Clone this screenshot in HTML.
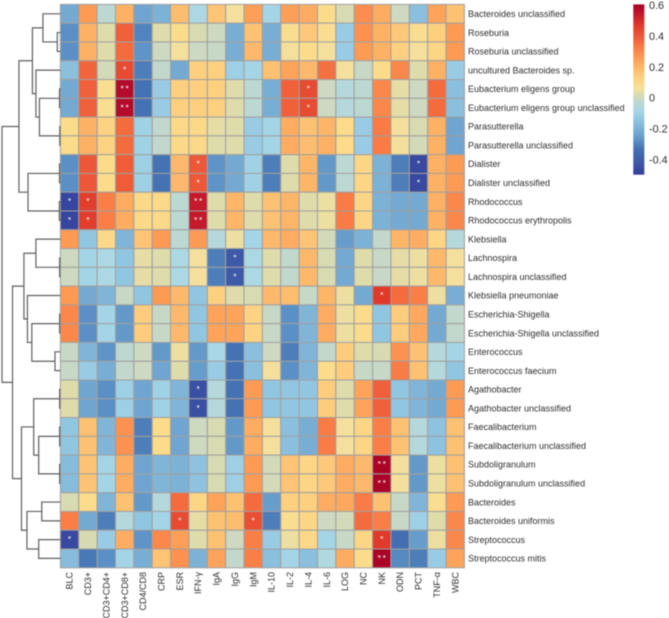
<!DOCTYPE html>
<html><head><meta charset="utf-8"><title>Heatmap</title>
<style>
html,body{margin:0;padding:0;background:#fff;width:669px;height:618px;overflow:hidden}
svg{display:block;filter:blur(0.45px)}
text{font-family:"Liberation Sans",sans-serif;fill:#2e2e2e}
</style></head>
<body>
<svg id="chart" width="669" height="618" viewBox="0 0 669 618" xmlns="http://www.w3.org/2000/svg"></svg>
<script>
const columns = ["BLC","CD3+","CD3+CD4+","CD3+CD8+","CD4/CD8","CRP","ESR","IFN-γ","IgA","IgG","IgM","IL-10","IL-2","IL-4","IL-6","LOG","NC","NK","ODN","PCT","TNF-α","WBC"];
const taxa = ["Bacteroides unclassified","Roseburia","Roseburia unclassified","uncultured Bacteroides sp.","Eubacterium eligens group","Eubacterium eligens group unclassified","Parasutterella","Parasutterella unclassified","Dialister","Dialister unclassified","Rhodococcus","Rhodococcus erythropolis","Klebsiella","Lachnospira","Lachnospira unclassified","Klebsiella pneumoniae","Escherichia-Shigella","Escherichia-Shigella unclassified","Enterococcus","Enterococcus faecium","Agathobacter","Agathobacter unclassified","Faecalibacterium","Faecalibacterium unclassified","Subdoligranulum","Subdoligranulum unclassified","Bacteroides","Bacteroides uniformis","Streptococcus","Streptococcus mitis"];
const correlations = [
[-.22,.26,-.03,.21,-.23,-.2,.18,-.07,.16,.06,.25,-.09,.25,.22,.09,.02,.29,.22,0,-.16,.24,.17],
[-.28,.21,.03,.38,-.3,.03,.09,.02,0,-.21,.17,-.21,.08,.15,.08,-.12,.28,.21,.15,.08,.13,.26],
[-.28,.21,.03,.36,-.27,0,.06,0,-.01,-.21,.19,-.21,.06,.09,.06,-.12,.26,.21,.13,.06,.11,.26],
[-.16,.37,.01,.43,-.31,-.02,-.22,.13,.13,-.11,-.09,.17,.24,.19,.35,.06,-.01,.09,.3,.03,.21,-.12],
[-.22,.38,.08,.58,-.33,-.12,.13,.13,.13,.03,-.03,-.21,.38,.43,0,-.05,-.03,.3,.04,0,.36,-.16],
[-.22,.38,.08,.58,-.33,-.12,.13,.13,.13,.03,-.03,-.21,.38,.43,0,-.05,-.03,.3,.04,0,.36,-.16],
[.09,.21,.12,.36,-.1,-.02,.1,.1,.04,.03,-.12,-.09,.22,.17,.2,.09,-.12,.33,.06,.02,.21,-.23],
[.09,.21,.12,.36,-.1,-.02,.1,.1,.03,.03,-.12,-.09,.22,.18,.21,.09,-.12,.33,.06,.01,.21,-.23],
[-.28,.4,.09,.39,-.11,-.33,.19,.4,-.27,-.22,-.1,-.31,.03,.2,-.26,-.03,.11,-.2,-.31,-.47,.21,.26],
[-.28,.4,.09,.39,-.11,-.33,.19,.4,-.27,-.22,-.1,-.31,.03,.2,-.26,-.03,.11,-.2,-.31,-.47,.21,.26],
[-.48,.46,.32,.22,.1,.1,-.03,.54,.03,.2,.03,.17,.2,.03,.05,.33,.11,-.2,-.22,-.22,.21,.3],
[-.48,.46,.32,.22,.1,.1,-.03,.54,.03,.2,.03,.17,.2,.03,.05,.33,.11,-.2,-.22,-.22,.21,.3],
[.26,-.14,.1,-.19,.16,.26,-.03,.26,-.05,.05,-.09,.19,.22,.16,.01,-.25,-.2,-.02,.2,.22,.11,-.05],
[0,-.09,-.07,-.14,.04,.03,-.07,.06,-.31,-.42,-.07,.03,-.02,.19,.02,-.22,.03,-.01,.04,.05,.19,.06],
[0,-.09,-.07,-.14,.04,.03,-.07,.06,-.31,-.42,-.07,.03,-.02,.19,.02,-.22,.03,-.01,.04,.05,.19,.06],
[.26,-.22,-.19,-.01,-.14,.26,.19,-.14,.13,.03,.02,.19,.18,-.01,.2,.05,-.22,.47,.36,.32,.05,-.21],
[.3,-.28,-.09,-.26,.14,-.01,.19,-.14,.24,.24,.12,-.01,-.28,-.19,.22,.05,.09,-.14,.14,.23,-.22,-.02],
[.3,-.28,-.09,-.26,.14,-.01,.19,-.14,.24,.24,.12,-.01,-.28,-.19,.22,.05,.09,-.14,.14,.23,-.22,-.02],
[-.01,-.19,-.27,-.03,0,-.26,.05,-.26,-.08,-.33,-.16,0,-.31,-.19,-.02,.14,.03,.02,.28,.17,-.05,-.09],
[-.01,-.12,-.21,-.02,0,-.23,.03,-.25,-.12,-.33,-.16,.06,-.28,-.19,.09,.14,-.01,-.01,.33,.17,-.05,-.14],
[.03,-.23,-.28,-.11,-.23,-.1,-.19,-.45,-.05,-.33,.26,-.14,-.14,-.14,.14,.03,.24,.38,-.14,-.19,-.22,.26],
[.03,-.23,-.28,-.11,-.23,-.1,-.19,-.45,-.05,-.33,.26,-.14,-.14,-.14,.14,.03,.24,.38,-.14,-.19,-.22,.26],
[-.14,.17,-.19,.28,-.31,.09,-.23,0,.02,-.26,.22,.06,-.16,-.21,.33,.06,.11,.32,.17,-.05,-.15,.17],
[-.14,.17,-.19,.28,-.31,.09,-.23,0,.02,-.26,.22,.06,-.16,-.21,.33,.06,.11,.32,.17,-.05,-.15,.17],
[-.17,.16,-.09,.22,-.23,-.19,-.2,-.15,.02,-.11,.26,.01,.16,.11,.15,.22,.19,.6,.06,-.26,.05,.17],
[-.17,.16,-.09,.22,-.23,-.19,-.2,-.15,.02,-.11,.26,.01,.16,.11,.15,.22,.19,.6,.06,-.26,.05,.17],
[.02,.09,-.19,.17,-.26,-.05,.36,.11,.24,.17,.36,-.25,.13,.13,.22,.23,.33,.17,-.01,-.19,.08,.26],
[.32,-.22,-.31,-.05,-.14,-.09,.43,.04,.17,.18,.42,-.31,.08,.11,0,.01,.36,.32,-.01,-.11,.03,.3],
[-.47,.02,-.12,.22,-.27,.3,.25,.03,.17,0,.32,-.12,.05,.1,-.09,-.01,.11,.47,-.34,-.25,.05,.3],
[-.17,-.32,-.28,-.09,-.21,.16,.28,-.2,.24,-.02,.32,-.16,-.09,-.16,-.06,.22,.09,.6,-.29,-.31,-.12,.24]
];
const significance = [[3,3,"*"],[4,3,"**"],[5,3,"**"],[4,13,"*"],[5,13,"*"],[8,7,"*"],[9,7,"*"],[8,19,"*"],[9,19,"*"],[10,0,"*"],[11,0,"*"],[10,1,"*"],[11,1,"*"],[10,7,"**"],[11,7,"**"],[13,9,"*"],[14,9,"*"],[15,17,"*"],[20,7,"*"],[21,7,"*"],[24,17,"**"],[25,17,"**"],[27,6,"*"],[27,10,"*"],[28,0,"*"],[28,17,"*"],[29,17,"**"]];
const colorTicks = [0.6,0.4,0.2,0,-0.2,-0.4];
const colorDomain = [-0.495,0.606];
/* Row dendrogram: [merge height (0-1), left child, right child]; numbers are leaf row indices */
const rowTree = [1,
 [.71,
  [.48,
   [.30,0,[.055,1,2]],
   [.42,3,[.36,[.017,4,5],[.012,6,7]]]],
  [.555,[.017,8,9],[.02,10,11]]],
 [.82,
  [.625,
   [.42,12,[.015,13,14]],
   [.565,15,[.49,[.015,16,17],[.094,18,19]]]],
  [.667,
   [.458,[.015,20,21],[.373,[.015,22,23],[.015,24,25]]],
   [.573,[.32,26,27],[.373,28,29]]]]];

const svg = document.getElementById('chart');
const NS = 'http://www.w3.org/2000/svg';
const L = 60.4, R = 464.4, T = 4.4, B = 567.8;
const cw = (R - L) / columns.length, rh = (B - T) / taxa.length;
const xCol = i => L + i * cw;
const yRow = i => T + i * rh;
const xHeight = h => 60.5 - h * 58.5;
const legendL = 633.3, legendW = 11, legendT = 4.4, legendB = 174;
const yLegend = v => legendB - (v - colorDomain[0]) / (colorDomain[1] - colorDomain[0]) * (legendB - legendT);

const scaleStops = [[-.5,'#343e9a'],[-.45,'#3a50a3'],[-.33,'#4472b3'],[-.28,'#5a90c5'],[-.2,'#7cb2d6'],[-.13,'#95c9e3'],[-.08,'#a8d8e8'],[-.03,'#bcd8d2'],[0,'#cdd9c0'],[.03,'#dedcaa'],[.06,'#f4e09c'],[.09,'#fbdc8a'],[.13,'#fdd080'],[.2,'#fdb567'],[.26,'#fd9a54'],[.33,'#f97b45'],[.38,'#f0603a'],[.47,'#e03a2b'],[.55,'#c0152b'],[.61,'#a50026']];
function hex(c){return [1,3,5].map(i=>parseInt(c.substr(i,2),16));}
function color(v){
  if (v <= scaleStops[0][0]) return scaleStops[0][1];
  for (let i = 1; i < scaleStops.length; i++) {
    if (v <= scaleStops[i][0]) {
      const a = scaleStops[i-1], b = scaleStops[i], t = (v - a[0]) / (b[0] - a[0]);
      const ca = hex(a[1]), cb = hex(b[1]);
      return 'rgb(' + ca.map((x,k)=>Math.round(x + (cb[k]-x)*t)).join(',') + ')';
    }
  }
  return scaleStops[scaleStops.length-1][1];
}
function el(tag, attrs, parent){
  const e = document.createElementNS(NS, tag);
  for (const k in attrs) e.setAttribute(k, attrs[k]);
  (parent || svg).appendChild(e);
  return e;
}

/* Heatmap cells */
correlations.forEach((row, r) => row.forEach((v, c) => {
  const cell = el('rect', {x:xCol(c), y:yRow(r), width:cw, height:rh, fill:color(v), stroke:'#a0a0a0', 'stroke-width':1});
  
  
}));

/* Significance marks */
significance.forEach(s => {
  const mark = el('text', {x:xCol(s[1]) + cw/2, y:yRow(s[0]) + rh/2 + 2.6, 'text-anchor':'middle', 'font-size':8.5, style:'fill:#fff'});
  mark.textContent = s[2].split('').join('\u2009');
  
  
});

/* Row labels */
taxa.forEach((t, r) => {
  const label = el('text', {x:468, y:yRow(r) + rh/2 + 3.2, 'font-size':9});
  label.textContent = t;
  
  
});

/* Column labels */
columns.forEach((t, c) => {
  const x = xCol(c) + cw/2 + 3.1, y = 572;
  const label = el('text', {x:x, y:y, 'font-size':9, 'text-anchor':'end', transform:'rotate(-90 ' + x + ' ' + y + ')'});
  label.textContent = t;
  
  
});

/* Row dendrogram */
function drawTree(node){
  if (typeof node === 'number') return {x:L, y:yRow(node) + rh/2};
  const a = drawTree(node[1]), b = drawTree(node[2]);
  const x = xHeight(node[0]);
  const link = el('path', {d:'M' + a.x + ' ' + a.y + 'H' + x + 'V' + b.y + 'H' + b.x, fill:'none', stroke:'#5f5f5f', 'stroke-width':1.2});
  
  
  return {x:x, y:(a.y + b.y)/2};
}
drawTree(rowTree);

/* Colour legend */
for (let y = legendT; y < legendB; y += 1) {
  const v = colorDomain[0] + (legendB - y - 0.5) / (legendB - legendT) * (colorDomain[1] - colorDomain[0]);
  const strip = el('rect', {x:legendL, y:y, width:legendW, height:1.3, fill:color(v)});
  
  
}
colorTicks.forEach(v => {
  const tick = el('text', {x:649, y:yLegend(v) + 3.9, 'font-size':10.8});
  tick.textContent = String(v);
  
  
});
</script>
</body></html>
